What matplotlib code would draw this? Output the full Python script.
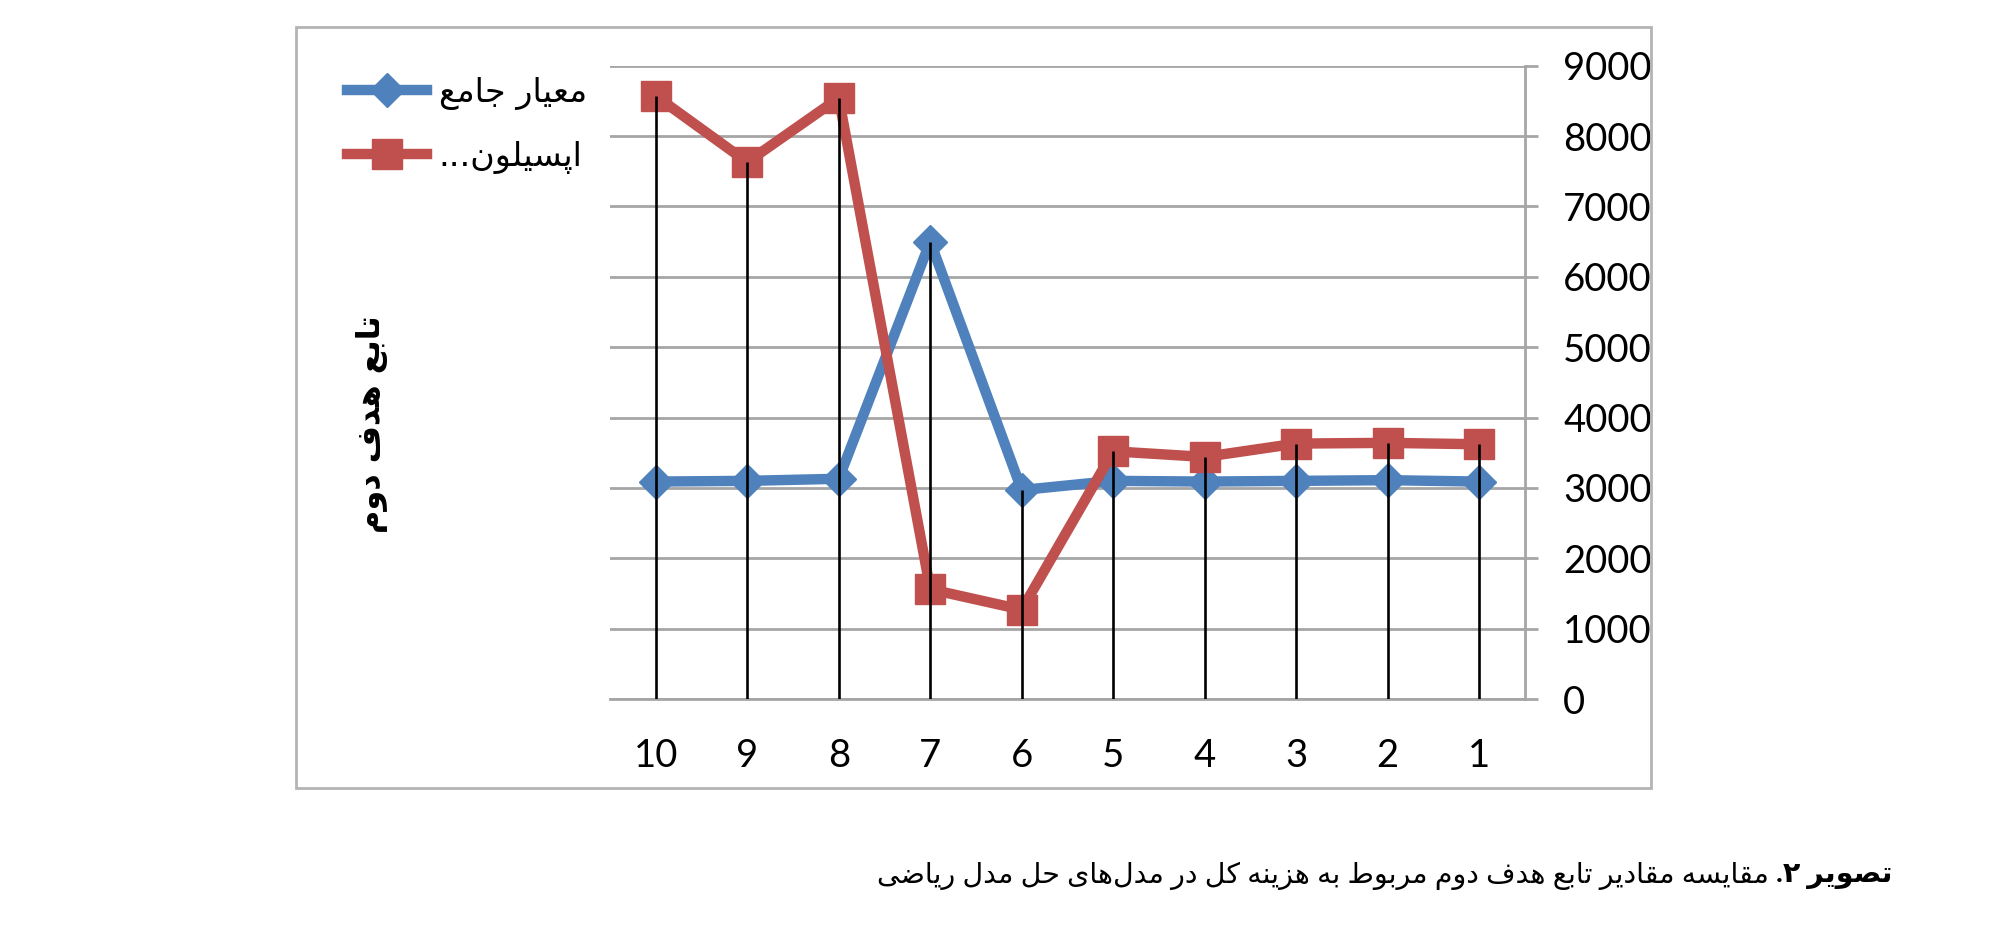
import matplotlib
matplotlib.use("Agg")
import matplotlib.pyplot as plt
from matplotlib.patches import Rectangle

# scenario numbers 1..10 (drawn right to left like the original)
scenarios = [1, 2, 3, 4, 5, 6, 7, 8, 9, 10]
jame = [3090, 3110, 3100, 3090, 3100, 2970, 6500, 3130, 3100, 3090]
epsilon = [3620, 3640, 3630, 3440, 3520, 1270, 1560, 8540, 7630, 8570]
y_ticks = [0, 1000, 2000, 3000, 4000, 5000, 6000, 7000, 8000, 9000]

label_jame = "معیار جامع"
label_eps = "اپسیلون..."
y_title = "تابع هدف دوم"
cap_bold = "تصویر ۲."
cap_rest = "مقایسه مقادیر تابع هدف دوم مربوط به هزینه کل در مدل\u200cهای حل مدل ریاضی"

BLUE = "#4F81BD"
RED = "#C0504D"
GRID = "#A6A6A6"

# small persian shaper: matplotlib has no bidi / joining support
FORMS = {
    "ا": ("\uFE8D", "\uFE8E", None, None),
    "ب": ("\uFE8F", "\uFE90", "\uFE91", "\uFE92"),
    "پ": ("\uFB56", "\uFB57", "\uFB58", "\uFB59"),
    "ت": ("\uFE95", "\uFE96", "\uFE97", "\uFE98"),
    "ج": ("\uFE9D", "\uFE9E", "\uFE9F", "\uFEA0"),
    "ح": ("\uFEA1", "\uFEA2", "\uFEA3", "\uFEA4"),
    "د": ("\uFEA9", "\uFEAA", None, None),
    "ر": ("\uFEAD", "\uFEAE", None, None),
    "ز": ("\uFEAF", "\uFEB0", None, None),
    "س": ("\uFEB1", "\uFEB2", "\uFEB3", "\uFEB4"),
    "ص": ("\uFEB9", "\uFEBA", "\uFEBB", "\uFEBC"),
    "ض": ("\uFEBD", "\uFEBE", "\uFEBF", "\uFEC0"),
    "ط": ("\uFEC1", "\uFEC2", "\uFEC3", "\uFEC4"),
    "ع": ("\uFEC9", "\uFECA", "\uFECB", "\uFECC"),
    "ف": ("\uFED1", "\uFED2", "\uFED3", "\uFED4"),
    "ق": ("\uFED5", "\uFED6", "\uFED7", "\uFED8"),
    "ک": ("\uFB8E", "\uFB8F", "\uFB90", "\uFB91"),
    "ل": ("\uFEDD", "\uFEDE", "\uFEDF", "\uFEE0"),
    "م": ("\uFEE1", "\uFEE2", "\uFEE3", "\uFEE4"),
    "ن": ("\uFEE5", "\uFEE6", "\uFEE7", "\uFEE8"),
    "ه": ("\uFEE9", "\uFEEA", "\uFEEB", "\uFEEC"),
    "و": ("\uFEED", "\uFEEE", None, None),
    "ی": ("\uFBFC", "\uFBFD", "\uFBFE", "\uFBFF"),
}


def shape(text):
    out = []
    for i, c in enumerate(text):
        if c not in FORMS:
            out.append(c)
            continue
        prev = text[i - 1] if i > 0 else None
        nxt = text[i + 1] if i < len(text) - 1 else None
        join_prev = prev in FORMS and FORMS[prev][2] is not None
        join_next = FORMS[c][2] is not None and nxt in FORMS
        iso, fin, ini, med = FORMS[c]
        if join_prev and join_next:
            out.append(med)
        elif join_prev:
            out.append(fin)
        elif join_next:
            out.append(ini)
        else:
            out.append(iso)
    return "".join(out).replace("\u200c", "")[::-1]


plt.rcParams["font.family"] = ["Lato", "DejaVu Sans"]

W, H = 2000, 927
fig = plt.figure(figsize=(W / 100, H / 100), dpi=100)
ax = fig.add_axes([610 / W, 1 - 699 / H, (1525 - 610) / W, (699 - 65.7) / H])

x = list(range(len(scenarios)))
tops = [max(a, b) for a, b in zip(jame, epsilon)]

ax.plot(x, jame, color=BLUE, lw=7.5, marker="D", ms=17, mec=BLUE,
        label=shape(label_jame), zorder=3)
ax.plot(x, epsilon, color=RED, lw=7.5, marker="s", ms=21, mec=RED, mew=1,
        label=shape(label_eps), zorder=3)
ax.vlines(x, 0, tops, color="black", lw=1.9, zorder=5)

ax.set_xlim(len(x) - 0.5, -0.5)
ax.set_ylim(0, 9000)
ax.set_yticks(y_ticks)
ax.set_xticks(x, labels=[str(s) for s in scenarios])
ax.grid(axis="y", color=GRID, lw=2)
ax.set_axisbelow(True)

ax.yaxis.tick_right()
ax.tick_params(axis="y", length=9.4, width=2, color=GRID, labelsize=27.5, pad=18)
ax.tick_params(axis="x", length=0, labelsize=27.5, pad=28)
for s in ["left", "top"]:
    ax.spines[s].set_visible(False)
for s in ["right", "bottom"]:
    ax.spines[s].set_color(GRID)
    ax.spines[s].set_linewidth(2)

ax.legend(loc="upper left", bbox_to_anchor=(347 / W, 1 - 76 / H),
          bbox_transform=fig.transFigure, frameon=False,
          prop={"family": "DejaVu Sans", "size": 24},
          handlelength=2.4, handletextpad=0.35, labelspacing=0.9,
          borderpad=0, borderaxespad=0)

fig.text(372 / W, 1 - 424 / H, shape(y_title), rotation=90, ha="center",
         va="center", fontsize=23, fontweight="bold", family="DejaVu Sans")

fig.add_artist(Rectangle((296 / W, 1 - 788 / H), (1651 - 296) / W, (788 - 27) / H,
                         transform=fig.transFigure, fill=False, ec="#B4B4B4", lw=2))

# caption: bold part on the right, rest to its left
t1 = fig.text(1893 / W, 1 - 876 / H, shape(cap_bold), ha="right", va="center",
              fontsize=20.5, fontweight="bold")
fig.canvas.draw()
bb = t1.get_window_extent(fig.canvas.get_renderer())
fig.text((bb.x0 - 8) / W, 1 - 876 / H, shape(cap_rest), ha="right", va="center",
         fontsize=20.5)

fig.savefig("out.png", dpi=100)
